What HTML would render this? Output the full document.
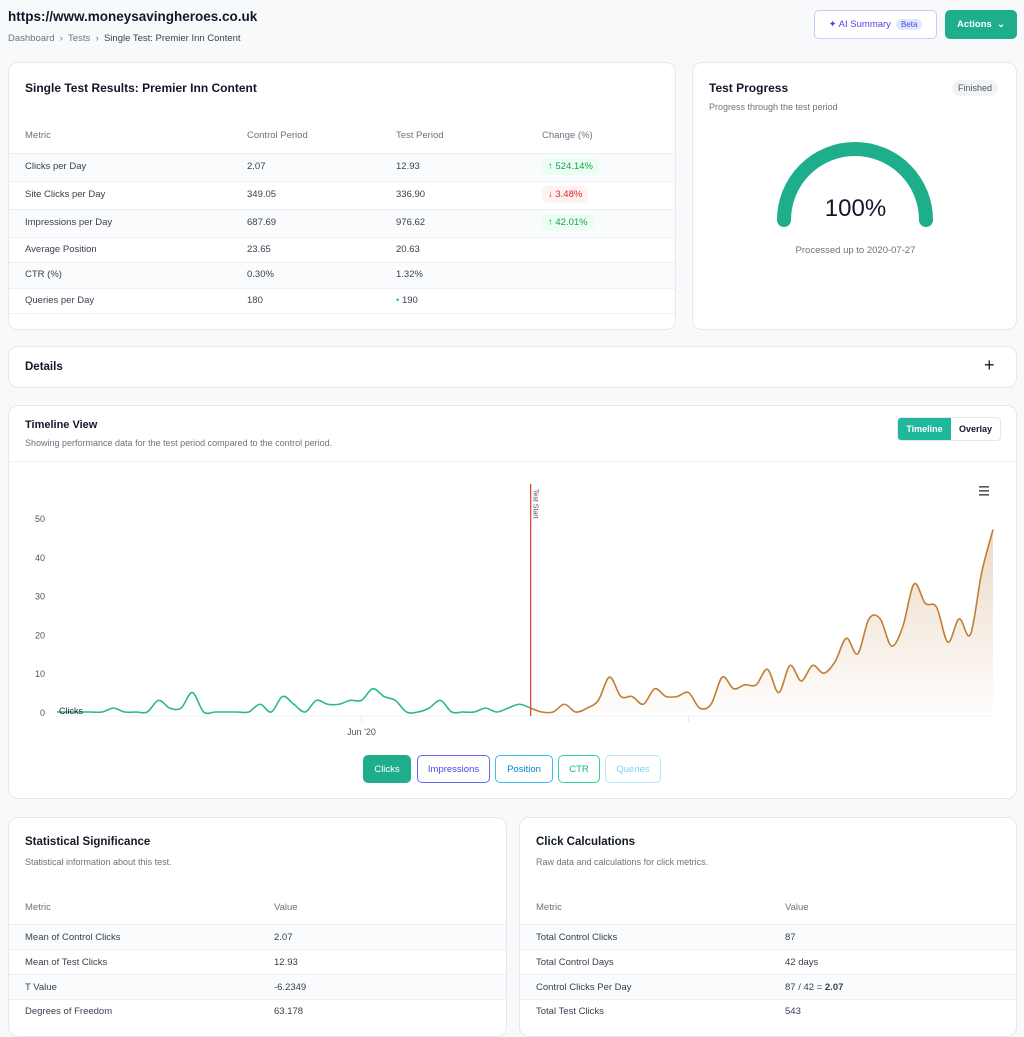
<!DOCTYPE html>
<html><head><meta charset="utf-8"><style>
*{box-sizing:border-box;margin:0;padding:0}
body{width:1024px;height:1011px;overflow:hidden;background:#f8f9fb;font-family:"Liberation Sans",sans-serif;color:#1f2937;position:relative}
.a{position:absolute}
.card{position:absolute;background:#fff;border:1px solid #e6e8ec;border-radius:10px;overflow:hidden}
.t{position:absolute;white-space:nowrap;font-size:9.5px;color:#374151}
.h{color:#6b7280}
.row{position:absolute;left:0;right:0;border-top:1px solid #eef0f3}
.shade{background:#fafbfc}
.pill{position:absolute;font-size:9.5px;padding:3px 6px;border-radius:5px}
.btn{position:absolute;top:755px;height:28px;border-radius:5px;font-size:9.5px;display:flex;align-items:center;justify-content:center;background:#fff}
</style></head><body>
<div class="a" style="left:8px;top:9px;font-size:13.5px;font-weight:bold;color:#111827">https://www.moneysavingheroes.co.uk</div>
<div class="t" style="left:8px;top:33px;font-size:9.5px;color:#6b7280"><span>Dashboard</span> &nbsp;›&nbsp; <span>Tests</span> &nbsp;›&nbsp; <span style="color:#374151">Single Test: Premier Inn Content</span></div>
<div class="a" style="left:814px;top:10px;width:123px;height:29px;border:1px solid #c7cbf5;border-radius:5px;background:#fff;font-size:9.5px;color:#4f46e5;display:flex;align-items:center;justify-content:center;gap:5px">✦ AI Summary <span style="background:#e0e7ff;border-radius:8px;padding:1px 5px;font-size:8px">Beta</span></div>
<div class="a" style="left:945px;top:10px;width:72px;height:29px;border-radius:5px;background:#1fae8b;color:#fff;font-size:9.5px;font-weight:bold;display:flex;align-items:center;justify-content:center">Actions &nbsp;⌄</div>

<div class="card" style="left:8px;top:62px;width:668px;height:268px">
<div class="t" style="left:16px;top:18px;font-size:12px;font-weight:bold;color:#111827">Single Test Results: Premier Inn Content</div>
<div class="t h" style="left:16px;top:67px">Metric</div><div class="t h" style="left:238px;top:67px">Control Period</div><div class="t h" style="left:387px;top:67px">Test Period</div><div class="t h" style="left:533px;top:67px">Change (%)</div>
<div class="row shade" style="top:90px;height:28px"></div>
<div class="row" style="top:118px;height:28px"></div>
<div class="row shade" style="top:146px;height:28px"></div>
<div class="row" style="top:174px;height:25px"></div>
<div class="row shade" style="top:199px;height:26px"></div>
<div class="row" style="top:225px;height:25px"></div>
<div class="row" style="top:250px;height:1px"></div>
<div class="t" style="left:16px;top:98px">Clicks per Day</div><div class="t" style="left:238px;top:98px">2.07</div><div class="t" style="left:387px;top:98px">12.93</div><div class="pill" style="left:533px;top:95px;background:#ecfdf3;color:#16a34a">↑ 524.14%</div>
<div class="t" style="left:16px;top:126px">Site Clicks per Day</div><div class="t" style="left:238px;top:126px">349.05</div><div class="t" style="left:387px;top:126px">336.90</div><div class="pill" style="left:533px;top:123px;background:#fef2f2;color:#dc2626">↓ 3.48%</div>
<div class="t" style="left:16px;top:154px">Impressions per Day</div><div class="t" style="left:238px;top:154px">687.69</div><div class="t" style="left:387px;top:154px">976.62</div><div class="pill" style="left:533px;top:151px;background:#ecfdf3;color:#16a34a">↑ 42.01%</div>
<div class="t" style="left:16px;top:181px">Average Position</div><div class="t" style="left:238px;top:181px">23.65</div><div class="t" style="left:387px;top:181px">20.63</div>
<div class="t" style="left:16px;top:206px">CTR (%)</div><div class="t" style="left:238px;top:206px">0.30%</div><div class="t" style="left:387px;top:206px">1.32%</div>
<div class="t" style="left:16px;top:232px">Queries per Day</div><div class="t" style="left:238px;top:232px">180</div><div class="t" style="left:387px;top:232px"><span style="color:#22c55e">•</span> 190</div>
</div>

<div class="card" style="left:692px;top:62px;width:325px;height:268px">
<div class="t" style="left:16px;top:18px;font-size:12px;font-weight:bold;color:#111827">Test Progress</div>
<div class="pill" style="left:259px;top:17px;background:#f1f3f6;color:#4b5563;font-size:9px;border-radius:8px">Finished</div>
<div class="t h" style="left:16px;top:39px;font-size:9px">Progress through the test period</div>
<svg class="a" style="left:0;top:0" width="325" height="268"><path d="M91 157 A71 71 0 0 1 233 157" fill="none" stroke="#1fae8b" stroke-width="14" stroke-linecap="round"/></svg>
<div class="t" style="left:0;width:325px;text-align:center;top:132px;font-size:24px;color:#111827">100%</div>
<div class="t h" style="left:0;width:325px;text-align:center;top:182px;font-size:9.5px">Processed up to 2020-07-27</div>
</div>

<div class="card" style="left:8px;top:346px;width:1009px;height:42px">
<div class="t" style="left:16px;top:14px;font-size:11.5px;font-weight:bold;color:#111827">Details</div>
<div class="t" style="left:975px;top:8px;font-size:18px;color:#111827">+</div>
</div>

<div class="card" style="left:8px;top:405px;width:1009px;height:394px">
<div class="t" style="left:16px;top:13px;font-size:11px;font-weight:bold;color:#111827">Timeline View</div>
<div class="t h" style="left:16px;top:32px;font-size:9px">Showing performance data for the test period compared to the control period.</div>
<div class="a" style="left:888px;top:11px;width:104px;height:24px;border:1px solid #e5e7eb;border-radius:4px;display:flex;font-size:9px;font-weight:bold;overflow:hidden">
<div style="width:53px;background:#1fb89b;color:#fff;display:flex;align-items:center;justify-content:center">Timeline</div>
<div style="flex:1;color:#111827;display:flex;align-items:center;justify-content:center">Overlay</div></div>
<div class="row" style="top:55px;height:1px"></div>
</div>
<svg id="chart" class="a" style="left:0;top:0" width="1024" height="800"></svg>
<div class="btn" style="left:363px;width:48px;background:#1fae8b;color:#fff">Clicks</div>
<div class="btn" style="left:417px;width:73px;border:1px solid #6366f1;color:#4f46e5">Impressions</div>
<div class="btn" style="left:495px;width:58px;border:1px solid #38bdf8;color:#0284c7">Position</div>
<div class="btn" style="left:558px;width:42px;border:1px solid #34d399;color:#10b981">CTR</div>
<div class="btn" style="left:605px;width:56px;border:1px solid #bae6fd;color:#7dd3fc">Queries</div>

<div class="card" style="left:8px;top:817px;width:499px;height:220px">
<div class="t" style="left:16px;top:18px;font-size:11.5px;font-weight:bold;color:#111827">Statistical Significance</div>
<div class="t h" style="left:16px;top:39px;font-size:9px">Statistical information about this test.</div>
<div class="t h" style="left:16px;top:84px">Metric</div><div class="t h" style="left:265px;top:84px">Value</div>
<div class="row shade" style="top:106px;height:25px"></div><div class="row" style="top:131px;height:25px"></div><div class="row shade" style="top:156px;height:25px"></div><div class="row" style="top:181px;height:25px"></div>
<div class="t" style="left:16px;top:114px">Mean of Control Clicks</div><div class="t" style="left:265px;top:114px">2.07</div>
<div class="t" style="left:16px;top:139px">Mean of Test Clicks</div><div class="t" style="left:265px;top:139px">12.93</div>
<div class="t" style="left:16px;top:164px">T Value</div><div class="t" style="left:265px;top:164px">-6.2349</div>
<div class="t" style="left:16px;top:188px">Degrees of Freedom</div><div class="t" style="left:265px;top:188px">63.178</div>
</div>
<div class="card" style="left:519px;top:817px;width:498px;height:220px">
<div class="t" style="left:16px;top:18px;font-size:11.5px;font-weight:bold;color:#111827">Click Calculations</div>
<div class="t h" style="left:16px;top:39px;font-size:9px">Raw data and calculations for click metrics.</div>
<div class="t h" style="left:16px;top:84px">Metric</div><div class="t h" style="left:265px;top:84px">Value</div>
<div class="row shade" style="top:106px;height:25px"></div><div class="row" style="top:131px;height:25px"></div><div class="row shade" style="top:156px;height:25px"></div><div class="row" style="top:181px;height:25px"></div>
<div class="t" style="left:16px;top:114px">Total Control Clicks</div><div class="t" style="left:265px;top:114px">87</div>
<div class="t" style="left:16px;top:139px">Total Control Days</div><div class="t" style="left:265px;top:139px">42 days</div>
<div class="t" style="left:16px;top:164px">Control Clicks Per Day</div><div class="t" style="left:265px;top:164px">87 / 42 = <b>2.07</b></div>
<div class="t" style="left:16px;top:188px">Total Test Clicks</div><div class="t" style="left:265px;top:188px">543</div>
</div>

<script>
const yTicks=[0,10,20,30,40,50];
const controlClicks=[0,0,0,0,0,1,0,0,0,3,1,1,5,0,0,0,0,0,2,0,4,2,0,3,2,2,3,3,6,4,3,0,0,1,3,0,0,0,1,0,1,2,1];
const testClicks=[1,0,0,2,0,1,3,9,4,4,2,6,4,4,5,1,2,9,6,7,7,11,5,12,8,12,10,13,19,15,24,24,17,22,33,28,27,18,24,20,36,47];
const xLabels=[{day:27,text:"Jun '20"}];
const testStartDay=42;
const totalDays=83;
const svg=document.getElementById('chart');
const NS='http://www.w3.org/2000/svg';
const X0=57,X1=993,Y0=712,Y50=518;
const xs=d=>X0+(X1-X0)*d/totalDays;
const ys=v=>Y0-(Y0-Y50)*v/50;
function mk(tag,attrs){const e=document.createElementNS(NS,tag);for(const k in attrs)e.setAttribute(k,attrs[k]);svg.appendChild(e);return e;}
function spline(pts){let d='M'+pts[0][0]+' '+pts[0][1];for(let i=0;i<pts.length-1;i++){const p0=pts[Math.max(0,i-1)],p1=pts[i],p2=pts[i+1],p3=pts[Math.min(pts.length-1,i+2)];const c1x=p1[0]+(p2[0]-p0[0])/6,c1y=p1[1]+(p2[1]-p0[1])/6,c2x=p2[0]-(p3[0]-p1[0])/6,c2y=p2[1]-(p3[1]-p1[1])/6;d+=' C'+c1x+' '+c1y+' '+c2x+' '+c2y+' '+p2[0]+' '+p2[1];}return d;}
const defs=mk('defs',{});
defs.innerHTML='<linearGradient id="g" x1="0" y1="0" x2="0" y2="1"><stop offset="0" stop-color="#c9955a" stop-opacity="0.35"/><stop offset="1" stop-color="#c9955a" stop-opacity="0.02"/></linearGradient>';
const ax=mk('line',{x1:X0,x2:X1,y1:Y0+4,y2:Y0+4,stroke:'#eef0f3'});


yTicks.forEach(v=>{const t=mk('text',{x:45,y:ys(v)+4,'text-anchor':'end','font-size':'9','fill':'#4b5563','font-family':'Liberation Sans'});t.textContent=v;

});
xLabels.forEach(l=>{mk('line',{x1:xs(l.day),x2:xs(l.day),y1:Y0+4,y2:Y0+10,stroke:'#e5e7eb'});const t=mk('text',{x:xs(l.day),y:735,'text-anchor':'middle','font-size':'9','fill':'#4b5563','font-family':'Liberation Sans'});t.textContent=l.text;

});
mk('line',{x1:xs(testStartDay+14),x2:xs(testStartDay+14),y1:Y0+4,y2:Y0+10,stroke:'#e5e7eb'});
const cp=controlClicks.map((v,i)=>[xs(i),ys(v)]);
const tp=testClicks.map((v,i)=>[xs(testStartDay+i),ys(v)]);
const td=spline(tp);
const area=mk('path',{d:td+' L'+tp[tp.length-1][0]+' '+Y0+' L'+tp[0][0]+' '+Y0+' Z',fill:'url(#g)'});


const cl=mk('path',{d:spline(cp),fill:'none',stroke:'#2bb88f','stroke-width':'1.6'});


const tl=mk('path',{d:td,fill:'none',stroke:'#c07f35','stroke-width':'1.6'});


const sl=mk('line',{x1:xs(testStartDay),x2:xs(testStartDay),y1:484,y2:Y0+4,stroke:'#e0453a','stroke-width':'1.3'});


const st=mk('text',{x:0,y:0,'font-size':'7','fill':'#4b5563','font-family':'Liberation Sans',transform:'translate('+(xs(testStartDay)+3)+',489) rotate(90)'});st.textContent='Test Start';


const sn=mk('text',{x:59,y:714,'font-size':'9','fill':'#1f2937','font-family':'Liberation Sans'});sn.textContent='Clicks';


const menu=mk('g',{});


[486,490,494].forEach(y=>{const r=document.createElementNS(NS,'rect');r.setAttribute('x',979);r.setAttribute('y',y);r.setAttribute('width',10);r.setAttribute('height',1.6);r.setAttribute('fill','#555');menu.appendChild(r);});
</script>
</body></html>
